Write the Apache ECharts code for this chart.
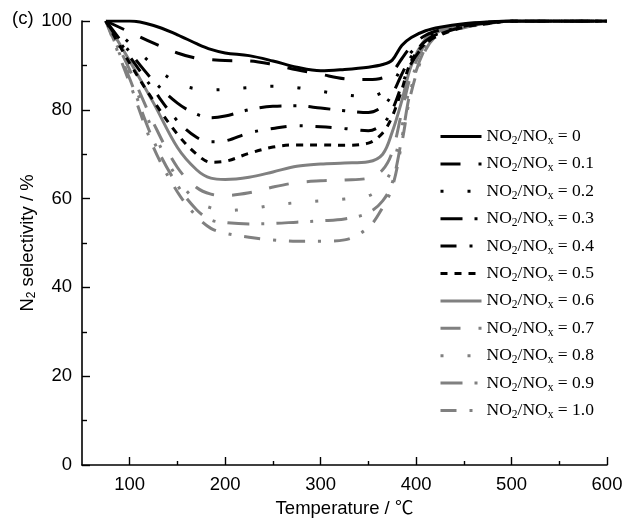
<!DOCTYPE html>
<html>
<head>
<meta charset="utf-8">
<script src="https://cdn.jsdelivr.net/npm/echarts@6/dist/echarts.min.js"></script>
<style>
  html, body { margin: 0; padding: 0; background: #ffffff; }
  #chart { width: 624px; height: 519px; }
</style>
</head>
<body>
<div id="chart"></div>
<script>
// Reaction temperature (°C) at which N2 selectivity was sampled
const temperature = [75, 100, 125, 150, 170, 185, 200, 225, 250, 275, 300, 325, 350, 365, 375, 385, 395, 410, 425, 450, 475, 500, 550, 600];

// NO2/NOx feed ratios
const ratioLabels = ['0', '0.1', '0.2', '0.3', '0.4', '0.5', '0.6', '0.7', '0.8', '0.9', '1.0'];

// N2 selectivity (%) for each feed ratio
const selR00 = [100, 100, 99.0, 96.9, 94.9, 93.6, 92.8, 92.2, 91.0, 89.6, 88.8, 89.1, 89.6, 90.2, 91.2, 94.5, 96.3, 97.8, 98.6, 99.4, 99.8, 100, 100, 100];
const selR01 = [100, 97.5, 95.0, 92.8, 91.6, 91.3, 91.1, 91.0, 90.2, 89.0, 88.0, 87.0, 86.8, 87.2, 88.5, 91.5, 94.3, 96.8, 98.0, 99.2, 99.7, 100, 100, 100];
const selR02 = [100, 95.0, 90.0, 86.0, 84.7, 84.5, 84.6, 85.0, 85.3, 85.0, 84.2, 83.4, 83.0, 84.0, 86.0, 89.5, 93.0, 96.0, 97.6, 99.0, 99.6, 100, 100, 100];
const selR03 = [100, 93.0, 86.5, 81.5, 79.0, 78.2, 78.6, 80.0, 80.8, 80.9, 80.4, 79.8, 79.4, 80.8, 83.5, 88.0, 92.0, 95.5, 97.3, 98.8, 99.5, 100, 100, 100];
const selR04 = [100, 92.0, 84.5, 77.5, 73.8, 72.8, 73.0, 74.8, 75.8, 76.4, 76.2, 75.8, 75.3, 76.8, 80.0, 85.5, 90.5, 94.8, 97.0, 98.7, 99.5, 100, 100, 100];
const selR05 = [100, 90.5, 82.0, 74.5, 70.0, 68.2, 68.4, 70.2, 71.6, 72.1, 72.1, 72.0, 72.5, 74.8, 78.5, 84.5, 91.0, 95.0, 96.8, 98.6, 99.4, 100, 100, 100];
const selR06 = [100, 91.0, 81.5, 71.5, 66.5, 64.6, 64.3, 64.8, 66.0, 67.3, 67.8, 68.0, 68.3, 70.0, 75.0, 82.0, 90.0, 96.0, 98.2, 99.2, 99.7, 100, 100, 100];
const selR07 = [100, 89.0, 77.0, 67.0, 62.5, 61.0, 60.7, 61.3, 62.6, 63.6, 64.0, 64.2, 64.6, 66.5, 70.5, 79.5, 88.0, 95.0, 97.8, 98.8, 99.6, 100, 100, 100];
const selR08 = [100, 88.0, 75.0, 64.5, 59.5, 57.9, 57.3, 57.7, 58.5, 59.1, 59.5, 59.9, 60.6, 63.0, 67.0, 76.0, 86.5, 94.5, 97.5, 98.7, 99.5, 100, 100, 100];
const selR09 = [100, 87.0, 73.0, 63.0, 57.5, 55.2, 54.6, 54.3, 54.4, 54.7, 55.0, 55.4, 56.8, 59.5, 63.5, 73.5, 85.0, 94.0, 97.3, 98.5, 99.4, 100, 100, 100];
const selR10 = [100, 86.0, 71.5, 61.5, 56.0, 53.3, 52.2, 51.3, 50.7, 50.4, 50.4, 50.7, 53.5, 58.0, 62.5, 72.5, 84.0, 93.5, 97.2, 98.5, 99.4, 100, 100, 100];

const selectivity = [selR00, selR01, selR02, selR03, selR04, selR05, selR06, selR07, selR08, selR09, selR10];

// Axis tick labels
const xMajorTicks = [100, 200, 300, 400, 500, 600];
const xMinorTicks = [150, 250, 350, 450, 550];

// Line appearance per ratio: colour and dash pattern
const BLACK = '#000000';
const GREY = '#808080';
const lineLooks = [
  { color: BLACK, dash: 'solid' },
  { color: BLACK, dash: [20, 18] },
  { color: BLACK, dash: [3, 24] },
  { color: BLACK, dash: [22, 12, 3, 12] },
  { color: BLACK, dash: [16, 13, 3, 13] },
  { color: BLACK, dash: [7, 7] },
  { color: GREY, dash: 'solid' },
  { color: GREY, dash: [20, 18] },
  { color: GREY, dash: [3, 24] },
  { color: GREY, dash: [22, 12, 3, 12] },
  { color: GREY, dash: [16, 13, 3, 13] }
];

const SANS = '"Liberation Sans", Arial, "Noto Sans CJK SC", sans-serif';
const SERIF = '"Liberation Serif", "Times New Roman", serif';

const series = ratioLabels.map((label, i) => ({
  name: label,
  type: 'line',
  xAxisIndex: 0,
  symbol: 'none',
  smooth: 0.35,
  data: temperature.map((t, k) => [t, selectivity[i][k]]),
  lineStyle: { color: lineLooks[i].color, width: 3, type: lineLooks[i].dash, cap: 'butt' },
  itemStyle: { color: lineLooks[i].color },
  z: 20 - i
}));

const chart = echarts.init(document.getElementById('chart'), null, { renderer: 'canvas' });

chart.setOption({
  animation: false,
  backgroundColor: '#ffffff',
  grid: { left: 82, right: 17, top: 21, bottom: 54, containLabel: false, outerBoundsMode: 'none' },
  legend: {
    orient: 'vertical',
    left: 439,
    top: 126,
    padding: 0,
    itemWidth: 41,
    itemHeight: 14,
    itemGap: 6.4,
    data: ratioLabels,
    itemStyle: { opacity: 0, borderWidth: 0 },
    lineStyle: { width: 3 },
    formatter: name => 'NO{s|2}/NO{s|x} = ' + name,
    textStyle: {
      fontFamily: SERIF,
      fontSize: 17.5,
      color: '#000000',
      lineHeight: 18,
      rich: {
        s: { fontFamily: SERIF, fontSize: 11.5, color: '#000000', padding: [9, 0, 0, 0], lineHeight: 18 }
      }
    }
  },
  xAxis: [
    {
      type: 'value',
      min: 50,
      max: 600,
      position: 'bottom',
      name: 'Temperature / ℃',
      nameLocation: 'middle',
      nameGap: 34,
      nameTextStyle: { fontFamily: SANS, fontSize: 18.5, color: '#000000' },
      axisLine: { show: true, lineStyle: { color: '#000000', width: 1.6 } },
      axisTick: { show: true, inside: true, length: 8, customValues: xMajorTicks, lineStyle: { color: '#000000', width: 1.4 } },
      axisLabel: { show: true, customValues: xMajorTicks, margin: 11, fontFamily: SANS, fontSize: 18.5, color: '#000000' },
      splitLine: { show: false }
    },
    {
      type: 'value',
      min: 50,
      max: 600,
      position: 'bottom',
      axisLine: { show: false },
      axisTick: { show: true, inside: true, length: 4, customValues: xMinorTicks, lineStyle: { color: '#000000', width: 1.4 } },
      axisLabel: { show: false },
      splitLine: { show: false }
    }
  ],
  yAxis: {
    type: 'value',
    min: 0,
    max: 100,
    interval: 20,
    name: 'N{s|2} selectivity / %',
    nameLocation: 'middle',
    nameRotate: 90,
    nameGap: 44,
    nameMoveOverlap: false,
    nameTextStyle: {
      fontFamily: SANS,
      fontSize: 18.5,
      color: '#000000',
      rich: { s: { fontFamily: SANS, fontSize: 12, color: '#000000', padding: [9, 0, 0, 0] } }
    },
    axisLine: { show: true, lineStyle: { color: '#000000', width: 1.6 } },
    axisTick: { show: true, inside: true, length: 8, lineStyle: { color: '#000000', width: 1.4 } },
    minorTick: { show: true, splitNumber: 2, length: 5, lineStyle: { color: '#000000', width: 1.4 } },
    axisLabel: { margin: 10, fontFamily: SANS, fontSize: 18.5, color: '#000000' },
    splitLine: { show: false }
  },
  graphic: [
    {
      type: 'text',
      left: 12,
      top: 10,
      style: { text: '(c)', font: '18.5px ' + SANS, fill: '#000000' }
    }
  ],
  series: series
});
</script>
</body>
</html>
